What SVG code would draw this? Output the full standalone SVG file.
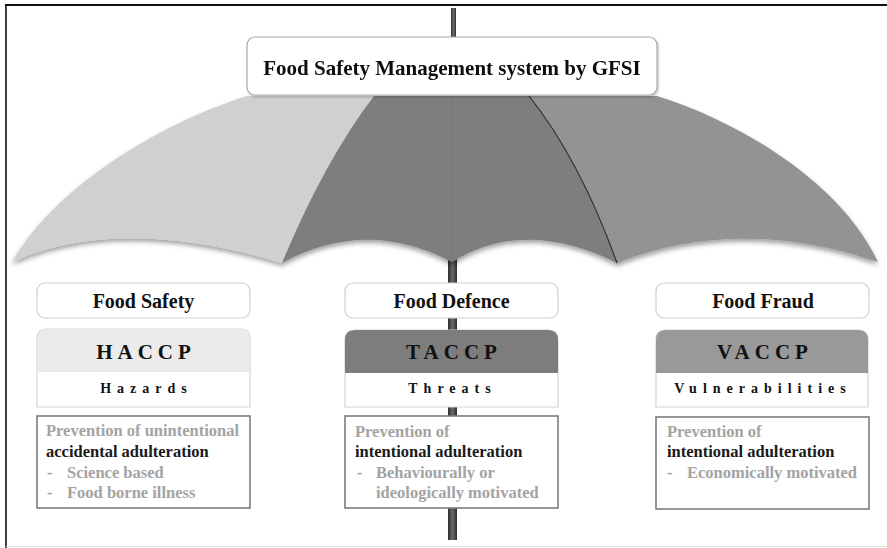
<svg xmlns="http://www.w3.org/2000/svg" width="887" height="548" viewBox="0 0 887 548">
  <style>
    .t { font-family: "Liberation Serif", "Times New Roman", serif; font-weight: bold; }
    .title { font-size: 21px; fill: #111; }
    .lbl { font-size: 20px; fill: #111; }
    .code { font-size: 21px; fill: #111; letter-spacing: 5px; }
    .sub { font-size: 14px; fill: #111; letter-spacing: 6px; }
    .desc { font-size: 16.5px; }
    .grey { fill: #a3a3a3; }
    .dark { fill: #1a1a1a; }
    .lblbox { fill: #fff; stroke: #cfcfcf; stroke-width: 1.2; }
    .hdrbox { fill: #fff; stroke: #d4d4d4; stroke-width: 1.2; }
    .descbox { fill: #fff; stroke: #7c7c7c; stroke-width: 1.6; }
  </style>
  <defs>
    <filter id="soft" x="-5%" y="-5%" width="110%" height="120%">
      <feDropShadow dx="0" dy="3" stdDeviation="2.4" flood-color="#000" flood-opacity="0.38"/>
    </filter>
    <filter id="lift" x="-5%" y="-10%" width="110%" height="130%">
      <feDropShadow dx="1" dy="1.5" stdDeviation="1.2" flood-color="#000" flood-opacity="0.25"/>
    </filter>
    <linearGradient id="poleGrad" x1="0" y1="0" x2="1" y2="0">
      <stop offset="0" stop-color="#2e2e2e"/>
      <stop offset="0.5" stop-color="#6a6a6a"/>
      <stop offset="1" stop-color="#2e2e2e"/>
    </linearGradient>
  </defs>

  <!-- background and frame -->
  <rect x="0" y="0" width="887" height="548" fill="#fff"/>
  <line x1="5" y1="5" x2="887" y2="5" stroke="#111" stroke-width="2"/>
  <line x1="6" y1="5" x2="6" y2="548" stroke="#111" stroke-width="1.6"/>
  <line x1="6" y1="546.5" x2="887" y2="546.5" stroke="#e2e2e2" stroke-width="1"/>

  <!-- umbrella shaft -->
  <g id="shaft">
    <rect x="451" y="8" width="5" height="30" fill="url(#poleGrad)"/>
    <rect x="448" y="250" width="9" height="290" fill="url(#poleGrad)"/>
  </g>

  <!-- umbrella canopy -->
  <g id="canopy" filter="url(#soft)">
    <path id="panel-left" fill="#d0d0d0"
          d="M247,96 L374,96 Q325,160 282,263 Q119,214 12,262 C60,180 170,120 247,96 Z"/>
    <path id="panel-middle" fill="#7e7e7e"
          d="M374,96 L529,96 Q580,160 617,263 Q525,217 452,262 Q366,217 282,263 Q325,160 374,96 Z"/>
    <path id="panel-right" fill="#939393"
          d="M529,96 L657,96 C735,120 840,180 878,262 Q738,215 617,263 Q580,160 529,96 Z"/>
    <line x1="452" y1="96" x2="452" y2="262" stroke="#777" stroke-width="0.8"/>
    <path d="M529,96 Q580,160 617,263" fill="none" stroke="#2f2f2f" stroke-width="1.2"/>
  </g>

  <!-- title -->
  <g id="title" filter="url(#lift)">
    <rect x="247" y="37" width="410" height="58" rx="8" fill="#fff" stroke="#a8a8a8" stroke-width="1.2"/>
    <text class="t title" x="452" y="75" text-anchor="middle">Food Safety Management system by GFSI</text>
  </g>

  <!-- Food Safety column -->
  <g id="food-safety">
    <rect class="lblbox" x="37" y="283" width="213" height="35" rx="8"/>
    <text class="t lbl" x="143.5" y="308" text-anchor="middle">Food Safety</text>
  </g>
  <g id="haccp">
    <path class="hdrbox" d="M37,407 L37,339 Q37,329 47,329 L240,329 Q250,329 250,339 L250,407 Z"/>
    <path d="M37.6,372 L37.6,339 Q37.6,329.6 47,329.6 L240,329.6 Q249.4,329.6 249.4,339 L249.4,372 Z" fill="#ebebeb"/>
    <text class="t code" x="146" y="359" text-anchor="middle">HACCP</text>
    <text class="t sub" x="146.5" y="393" text-anchor="middle">Hazards</text>
  </g>
  <g id="haccp-notes">
    <rect class="descbox" x="37" y="416" width="213" height="92"/>
    <text class="t desc grey" x="46" y="436">Prevention of unintentional</text>
    <text class="t desc dark" x="46" y="457">accidental adulteration</text>
    <text class="t desc grey" x="47" y="478">-</text>
    <text class="t desc grey" x="67" y="478">Science based</text>
    <text class="t desc grey" x="47" y="498">-</text>
    <text class="t desc grey" x="67" y="498">Food borne illness</text>
  </g>

  <!-- Food Defence column -->
  <g id="food-defence">
    <rect class="lblbox" x="345" y="283" width="213" height="35" rx="8"/>
    <text class="t lbl" x="451.5" y="308" text-anchor="middle">Food Defence</text>
  </g>
  <g id="taccp">
    <path class="hdrbox" d="M345,407 L345,340 Q345,330 355,330 L548,330 Q558,330 558,340 L558,407 Z"/>
    <path d="M345,373 L345,340 Q345,330 355,330 L548,330 Q558,330 558,340 L558,373 Z" fill="#7d7d7d"/>
    <text class="t code" x="454" y="359" text-anchor="middle">TACCP</text>
    <text class="t sub" x="452.5" y="393" text-anchor="middle">Threats</text>
  </g>
  <g id="taccp-notes">
    <rect class="descbox" x="345" y="416" width="213" height="92"/>
    <text class="t desc grey" x="355" y="437">Prevention of</text>
    <text class="t desc dark" x="355" y="457">intentional adulteration</text>
    <text class="t desc grey" x="357" y="478">-</text>
    <text class="t desc grey" x="376" y="478">Behaviourally or</text>
    <text class="t desc grey" x="376" y="498">ideologically motivated</text>
  </g>

  <!-- Food Fraud column -->
  <g id="food-fraud">
    <rect class="lblbox" x="656" y="283" width="213" height="35" rx="8"/>
    <text class="t lbl" x="763" y="308" text-anchor="middle">Food Fraud</text>
  </g>
  <g id="vaccp">
    <path class="hdrbox" d="M656,407 L656,340 Q656,330 666,330 L858,330 Q868,330 868,340 L868,407 Z"/>
    <path d="M656,373 L656,340 Q656,330 666,330 L858,330 Q868,330 868,340 L868,373 Z" fill="#999"/>
    <text class="t code" x="765" y="359" text-anchor="middle">VACCP</text>
    <text class="t sub" x="763" y="393" text-anchor="middle">Vulnerabilities</text>
  </g>
  <g id="vaccp-notes">
    <rect class="descbox" x="656" y="417" width="213" height="92"/>
    <text class="t desc grey" x="667" y="437">Prevention of</text>
    <text class="t desc dark" x="667" y="457">intentional adulteration</text>
    <text class="t desc grey" x="667" y="478">-</text>
    <text class="t desc grey" x="687" y="478">Economically motivated</text>
  </g>
</svg>
